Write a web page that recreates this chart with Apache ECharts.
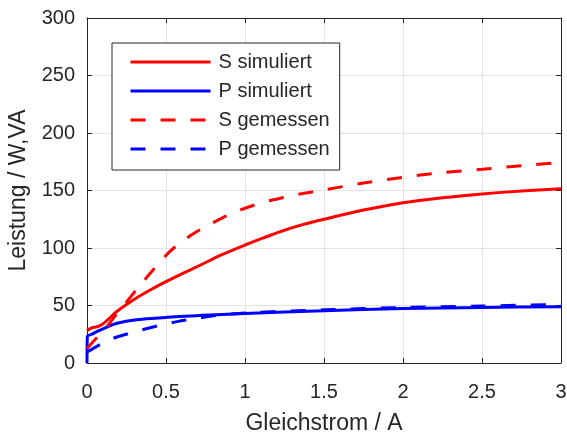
<!DOCTYPE html>
<html>
<head>
<meta charset="utf-8">
<script src="https://cdn.jsdelivr.net/npm/echarts@6/dist/echarts.min.js"></script>
<style>
  html, body { margin: 0; padding: 0; background: #fff; }
  #chart { width: 567px; height: 435px; }
</style>
</head>
<body>
<div id="chart"></div>
<script>
// Leistung über Gleichstrom: simulierte und gemessene Schein- und Wirkleistung
const seriesNames = ['S simuliert', 'P simuliert', 'S gemessen', 'P gemessen'];

const xTicks = [0, 0.5, 1, 1.5, 2, 2.5, 3];
const yTicks = [0, 50, 100, 150, 200, 250, 300];

// S simuliert
const sSimX = [0, 0.03, 0.065, 0.1, 0.13, 0.19, 0.3, 0.4, 0.5, 0.6, 0.715, 0.85, 1.0, 1.12, 1.24, 1.37, 1.5, 1.75, 2.0, 2.25, 2.5, 2.75, 3.0];
const sSimY = [28, 30.5, 31.5, 34, 37.5, 45, 55.5, 63.5, 70.7, 77.5, 85, 94, 102.6, 109, 115, 120.5, 125, 133, 139.4, 143.7, 147, 149.6, 151.6];

// P simuliert
const pSimX = [0, 0.002, 0.03, 0.065, 0.13, 0.19, 0.3, 0.51, 0.78, 1.0, 1.5, 2.0, 2.5, 3.0];
const pSimY = [0, 23, 25, 27.5, 31.5, 34.5, 37.4, 39.7, 41.7, 43, 45.5, 47.3, 48.3, 49];

// S gemessen
const sMeasX = [0, 0.065, 0.13, 0.19, 0.25, 0.32, 0.4, 0.47, 0.525, 0.6, 0.68, 0.77, 0.86, 0.96, 1.05, 1.15, 1.25, 1.35, 1.5, 1.75, 2.0, 2.25, 2.5, 2.75, 3.0];
const sMeasY = [12.5, 22.5, 32.5, 43, 53, 65, 78, 89, 97, 105.5, 113, 120, 126.5, 132.5, 137, 141, 144, 147, 150.5, 156.5, 161.5, 165.5, 168.5, 171.5, 174.5];

// P gemessen
const pMeasX = [0, 0.076, 0.14, 0.21, 0.3, 0.38, 0.47, 0.57, 0.68, 0.8, 1.0, 1.5, 2.0, 2.5, 3.0];
const pMeasY = [9.5, 15.6, 20, 23.5, 27, 30, 33, 36, 38.5, 41, 43.5, 46.2, 48.3, 49.6, 50.8];

const zip = (xs, ys) => xs.map((x, i) => [x, ys[i]]);

const RED = '#ff0000';
const BLUE = '#0000ff';
const AX = '#262626';
const GRID = '#e3e3e3';
const FONT = '"Liberation Sans", Arial, sans-serif';

function lineSeries(name, data, color, dashed) {
  return {
    name: name,
    type: 'line',
    data: data,
    symbol: 'circle',
    symbolSize: 0,
    showSymbol: false,
    smooth: 0.3,
    clip: true,
    lineStyle: { color: color, width: 3, type: dashed ? [15, 15] : 'solid', cap: 'butt' },
    itemStyle: { color: color },
    emphasis: { disabled: true },
    animation: false
  };
}

const chart = echarts.init(document.getElementById('chart'), null, { renderer: 'canvas' });

const commonLabel = { color: AX, fontSize: 20, fontFamily: FONT };

chart.setOption({
  backgroundColor: '#ffffff',
  animation: false,
  textStyle: { fontFamily: FONT },
  grid: { left: 87, right: 6, top: 18, bottom: 72, containLabel: false, outerBoundsMode: 'none' },
  legend: {
    orient: 'vertical',
    left: 112,
    top: 43,
    data: seriesNames,
    itemWidth: 80,
    itemHeight: 14,
    itemGap: 9,
    padding: [9, 10, 11, 17],
    backgroundColor: '#ffffff',
    borderColor: AX,
    borderWidth: 1,
    borderRadius: 0,
    selectedMode: false,
    // only the line sample is shown in each legend entry
    itemStyle: { opacity: 0 },
    lineStyle: { width: 3 },
    textStyle: { color: AX, fontSize: 20, fontFamily: FONT, lineHeight: 20, padding: [0, 0, 0, 3] }
  },
  xAxis: [
    {
      type: 'value',
      min: 0, max: 3, interval: 0.5,
      name: 'Gleichstrom / A',
      nameLocation: 'middle',
      nameGap: 49,
      nameTextStyle: { color: AX, fontSize: 23, fontFamily: FONT },
      axisLine: { show: true, onZero: false, lineStyle: { color: AX, width: 1 } },
      axisTick: { show: true, inside: true, length: 5, lineStyle: { color: AX } },
      axisLabel: Object.assign({ margin: 19, formatter: v => String(v) }, commonLabel),
      splitLine: { show: true, lineStyle: { color: GRID, width: 1 } }
    },
    {
      type: 'value', position: 'top',
      min: 0, max: 3, interval: 0.5,
      axisLine: { show: true, onZero: false, lineStyle: { color: AX, width: 1 } },
      axisTick: { show: true, inside: true, length: 5, lineStyle: { color: AX } },
      axisLabel: { show: false },
      splitLine: { show: false }
    }
  ],
  yAxis: [
    {
      type: 'value',
      min: 0, max: 300, interval: 50,
      name: 'Leistung / W,VA',
      nameLocation: 'middle',
      nameGap: 57,
      nameTextStyle: { color: AX, fontSize: 23, fontFamily: FONT },
      axisLine: { show: true, onZero: false, lineStyle: { color: AX, width: 1 } },
      axisTick: { show: true, inside: true, length: 5, lineStyle: { color: AX } },
      axisLabel: Object.assign({ margin: 12 }, commonLabel),
      splitLine: { show: true, lineStyle: { color: GRID, width: 1 } }
    },
    {
      type: 'value', position: 'right',
      min: 0, max: 300, interval: 50,
      axisLine: { show: true, onZero: false, lineStyle: { color: AX, width: 1 } },
      axisTick: { show: true, inside: true, length: 5, lineStyle: { color: AX } },
      axisLabel: { show: false },
      splitLine: { show: false }
    }
  ],
  series: [
    lineSeries(seriesNames[0], zip(sSimX, sSimY), RED, false),
    lineSeries(seriesNames[1], zip(pSimX, pSimY), BLUE, false),
    lineSeries(seriesNames[2], zip(sMeasX, sMeasY), RED, true),
    lineSeries(seriesNames[3], zip(pMeasX, pMeasY), BLUE, true)
  ]
});
</script>
</body>
</html>
